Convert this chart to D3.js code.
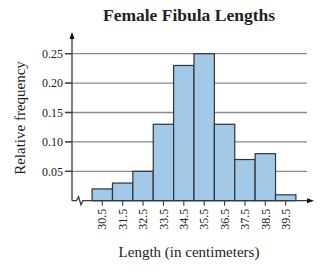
<!DOCTYPE html>
<html>
<head>
<meta charset="utf-8">
<script src="https://cdn.jsdelivr.net/npm/d3@7"></script>
<style>
  body { margin: 0; background: #fff; }
  text { font-family: "Liberation Serif", "DejaVu Serif", serif; fill: #222; }
</style>
</head>
<body>
<svg id="chart" width="322" height="274"></svg>
<script>
// class midpoints (labels) and relative frequencies
var midpoints = [30.5, 31.5, 32.5, 33.5, 34.5, 35.5, 36.5, 37.5, 38.5, 39.5];
var freqs = [0.02, 0.03, 0.05, 0.13, 0.23, 0.25, 0.13, 0.07, 0.08, 0.01];
var yTicks = [0.05, 0.10, 0.15, 0.20, 0.25];

var svg = d3.select("#chart");

var axisX = 72, baseY = 200.7,
    gridRight = 307, arrowRight = 314, arrowTop = 32;

var x = d3.scaleLinear().domain([30, 40]).range([92.1, 295.9]);
var y = d3.scaleLinear().domain([0, 0.25]).range([baseY, 53.7]);

var lineColor = "#3a3a3a", gridColor = "#8a8a8a",
    barFill = "#a3c9e8", barStroke = "#2e3338";

// gridlines + left tick marks
svg.append("g").selectAll("line")
    .data(yTicks).enter().append("line")
    .attr("x1", 65).attr("x2", gridRight)
    .attr("y1", d => y(d)).attr("y2", d => y(d))
    .attr("stroke", gridColor).attr("stroke-width", 1.3);

svg.append("g").selectAll("line")
    .data(yTicks).enter().append("line")
    .attr("x1", 65).attr("x2", axisX)
    .attr("y1", d => y(d)).attr("y2", d => y(d))
    .attr("stroke", lineColor).attr("stroke-width", 1.3);

svg.append("g").selectAll("text")
    .data(yTicks).enter().append("text")
    .attr("x", 63).attr("y", d => y(d))
    .attr("dy", "0.35em")
    .attr("text-anchor", "end")
    .style("font-size", "12px")
    .text(d => d3.format(".2f")(d));

// bars
svg.append("g").selectAll("rect")
    .data(midpoints).enter().append("rect")
    .attr("x", d => x(d - 0.5))
    .attr("width", d => x(d + 0.5) - x(d - 0.5))
    .attr("y", (d, i) => y(freqs[i]))
    .attr("height", (d, i) => baseY - y(freqs[i]))
    .attr("fill", barFill)
    .attr("stroke", barStroke).attr("stroke-width", 1.2);

// x ticks
svg.append("g").selectAll("line")
    .data(midpoints).enter().append("line")
    .attr("x1", d => x(d)).attr("x2", d => x(d))
    .attr("y1", baseY).attr("y2", baseY + 5)
    .attr("stroke", lineColor).attr("stroke-width", 1.1);

svg.append("g").selectAll("text")
    .data(midpoints).enter().append("text")
    .attr("transform", d => "translate(" + x(d) + "," + (baseY + 8) + ") rotate(-90)")
    .attr("dy", "0.35em")
    .attr("text-anchor", "end")
    .style("font-size", "12px")
    .text(d => d.toFixed(1));

// axes
svg.append("line")
    .attr("x1", axisX).attr("x2", axisX)
    .attr("y1", baseY).attr("y2", arrowTop + 5)
    .attr("stroke", lineColor).attr("stroke-width", 1.3);
svg.append("path")
    .attr("d", "M" + axisX + "," + arrowTop + "l-2.5,7l5,0z")
    .attr("fill", "#111");

svg.append("path")
    .attr("d", "M" + axisX + "," + baseY + "L76.5," + baseY +
        "L78.5," + (baseY - 4) + "L81," + (baseY + 4) + "L83," + baseY +
        "L" + (arrowRight - 5) + "," + baseY)
    .attr("fill", "none")
    .attr("stroke", lineColor).attr("stroke-width", 1.3);
svg.append("path")
    .attr("d", "M" + arrowRight + "," + baseY + "l-7,-2.5l0,5z")
    .attr("fill", "#111");

// titles
svg.append("text")
    .attr("x", 189).attr("y", 21)
    .attr("text-anchor", "middle")
    .style("font-size", "17.5px").style("font-weight", "bold")
    .text("Female Fibula Lengths");

svg.append("text")
    .attr("x", 189).attr("y", 257)
    .attr("text-anchor", "middle")
    .style("font-size", "15px")
    .text("Length (in centimeters)");

svg.append("text")
    .attr("transform", "translate(25,118) rotate(-90)")
    .attr("text-anchor", "middle")
    .style("font-size", "15px")
    .text("Relative frequency");
</script>
</body>
</html>
